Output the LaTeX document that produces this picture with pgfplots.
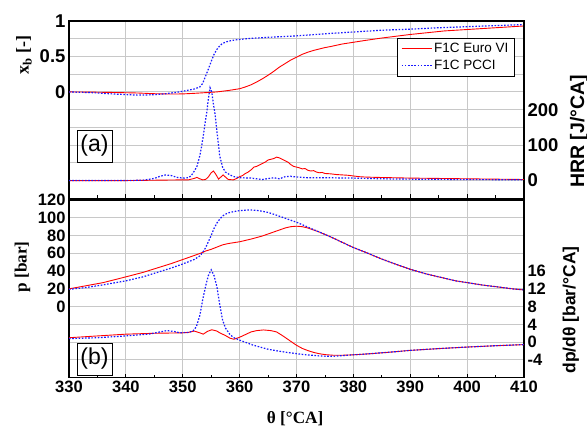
\documentclass[border=0pt]{standalone}
\usepackage{pgfplots}
\pgfplotsset{compat=1.18}
\usepackage{fontspec}
\setmainfont{Liberation Sans}
\newfontfamily\serif{Liberation Serif}
\definecolor{gridc}{RGB}{200,200,200}
\definecolor{pblue}{RGB}{25,25,255}
\pgfplotsset{
  base/.style={scale only axis, width=455pt, xmin=330, xmax=410, anchor=south west,
    /pgf/number format/assume math mode=true,
    axis line style={line width=1.2pt, black},
    xtick={330,340,...,410}, minor xtick={335,345,...,405},
    xtick pos=bottom, tick align=inside,
    major tick length=4pt, minor tick length=3pt,
    xtick style={black, line width=0.8pt},
    ytick style={draw=none},
    major grid style={gridc, line width=1pt},
    minor grid style={gridc, line width=1pt},
    clip=true},
  euro/.style={red, line width=0.9pt},
  pcci/.style={pblue, line width=1.2pt, dash pattern=on 1.6pt off 1.6pt},
}
\begin{document}
\begin{tikzpicture}
\path[use as bounding box] (0,0) rectangle (587pt,432pt);
% ---------------- top panel, left axis (x_b)
\begin{axis}[base, at={(69pt,233.7pt)}, height=177.3pt,
  ymin=-1.5, ymax=1, ytick={0,0.5,1}, yticklabels={0,0.5,1},
  minor ytick={-1.25,-1,-0.75,-0.5,-0.25,0.25,0.75},
  ymajorgrids, yminorgrids, xmajorgrids,
  xticklabels={}, ytick pos=left,
  yticklabel style={font=\bfseries\fontsize{18.5}{20}\selectfont},
  ylabel={\serif\bfseries x\textsubscript{b} [-]},
  ylabel style={at={(axis description cs:-0.099,0.808)}, anchor=center, font=\fontsize{18}{20}\selectfont},
  legend style={at={(axis description cs:0.720,0.904)}, anchor=north west, draw=black, line width=0.8pt,
    font=\fontsize{13.5}{15}\selectfont, row sep=2pt, inner xsep=4pt, inner ysep=3pt},
  legend cell align=left,
  legend image code/.code={\draw[#1] (0pt,0pt) -- (30pt,0pt);},
]
\addplot[euro] coordinates {(330,0) (334,-0.003) (338,-0.008) (342,-0.015) (345,-0.025) (348,-0.03) (350,-0.028) (352,-0.02) (354,-0.01) (356,0.0) (358,0.02) (360,0.045) (361,0.07) (362,0.1) (363,0.14) (364,0.185) (365,0.235) (366,0.29) (367,0.35) (368,0.40) (369,0.45) (370,0.49) (371,0.53) (372,0.56) (373,0.585) (374,0.605) (375,0.625) (376,0.64) (378,0.675) (380,0.70) (382,0.725) (385,0.76) (388,0.79) (390,0.81) (393,0.835) (396,0.86) (400,0.88) (405,0.905) (410,0.93)};
\addlegendentry{F1C Euro VI}
\addplot[pcci] coordinates {(330,0) (334,-0.01) (338,-0.03) (342,-0.045) (345,-0.04) (347,-0.025) (349,-0.005) (350,0.01) (351,0.025) (352,0.04) (353,0.07) (353.5,0.12) (354,0.22) (354.5,0.32) (355,0.43) (355.5,0.53) (356,0.60) (356.5,0.65) (357,0.685) (357.5,0.70) (358,0.715) (359,0.73) (360,0.74) (362,0.755) (365,0.77) (370,0.79) (375,0.82) (380,0.845) (385,0.87) (390,0.885) (395,0.905) (400,0.92) (405,0.935) (410,0.95)};
\addlegendentry{F1C PCCI}
\node[draw=black, line width=0.8pt, minimum width=35pt, minimum height=32pt, inner sep=0pt, font=\fontsize{23}{25}\selectfont] at (axis description cs:0.056,0.295) {(a)};
\end{axis}
% ---------------- top panel, right axis (HRR)
\begin{axis}[base, at={(69pt,233.7pt)}, height=177.3pt,
  axis y line*=right, axis x line=none,
  ymin=-50, ymax=450, ytick={0,100,200},
  yticklabel style={font=\bfseries\fontsize{18.5}{20}\selectfont},
  ylabel={\bfseries HRR [J/°CA]},
  ylabel style={at={(axis description cs:1.121,0.377)}, anchor=center, font=\fontsize{19.5}{21}\selectfont},
]
\addplot[euro] coordinates {(330,0) (340,0) (345,1) (350,2) (351,2) (352,6) (352.5,9) (353,5) (353.5,2) (354,3) (354.5,10) (355,22) (355.4,27) (355.8,18) (356.3,4) (356.7,10) (357.1,16) (357.5,10) (358,3) (358.9,2) (359.5,6) (360,11) (360.5,14) (361,20) (361.5,24) (362,30) (362.5,38) (363,40) (363.5,44) (364,48) (364.5,52) (365,58) (365.5,60) (366,62) (366.5,66) (367,64) (367.5,60) (368,56) (368.5,52) (369,45) (369.5,40) (370,38) (370.5,36) (371,33) (371.5,34) (372,29) (372.5,27) (373,28) (373.5,24) (374,22) (374.5,23) (375,20) (376,19) (377,17) (378,16) (379,15) (380,13) (381,11) (382,10) (384,9) (387,8) (390,7) (395,6) (400,5) (405,4) (410,3)};
\addplot[pcci] coordinates {(330,0) (340,0) (343,1) (345,6) (346,12) (347,16) (348,14) (349,9) (350,7) (351,8) (351.5,14) (352,26) (352.5,40) (353,70) (353.3,95) (353.6,125) (354,170) (354.2,189) (354.5,230) (354.8,262) (355.1,250) (355.4,215) (355.7,185) (356,140) (356.5,70) (357,38) (357.5,24) (358.3,16) (359,11) (360,8) (362,7) (364,3) (366,8) (367,5) (368,11) (369,12) (370,10) (372,8) (375,8) (380,7) (385,5) (390,4) (400,3) (410,2)};
\end{axis}
% ---------------- bottom panel, left axis (p)
\begin{axis}[base, at={(69pt,54.3pt)}, height=177.7pt,
  ymin=-80, ymax=120, ytick={0,20,...,120},
  minor ytick={-60,-40,-20},
  ymajorgrids, yminorgrids, xmajorgrids, ytick pos=left,
  ticklabel style={font=\bfseries\fontsize{16.5}{18}\selectfont},
  ylabel={\serif\bfseries p [bar]},
  ylabel style={at={(axis description cs:-0.102,0.623)}, anchor=center, font=\fontsize{17.2}{19}\selectfont},
  xlabel={\serif\bfseries θ [°CA]},
  xlabel style={at={(axis description cs:0.497,-0.232)}, anchor=center, font=\fontsize{17.2}{19}\selectfont},
]
\addplot[euro] coordinates {(330,20) (333,23.5) (336,27) (340,33.5) (343,38.5) (345,42.5) (348,48.5) (350,53) (352,57.5) (353.5,61) (354,62.5) (355,64.5) (356,67) (357,69.5) (358,71) (360,73) (362,76) (364,79.5) (366,84) (368,88.5) (369,90) (370,90.5) (371,90) (372,88.5) (374,84) (376,78.5) (378,72.5) (380,66.5) (382,61.5) (385,53.5) (388,46.5) (390,42) (393,36.5) (395,33.5) (398,29) (400,27) (403,24) (405,22.5) (408,20) (410,18.8)};
\addplot[pcci] coordinates {(330,19.5) (333,21.5) (336,24.5) (340,29) (343,33.5) (345,37.5) (348,43.5) (350,48) (352,53) (353,57) (353.5,61) (354,66) (354.5,73) (355,80) (355.5,88) (356,94) (356.5,98.5) (357,102) (357.5,104) (358,105.5) (359,107) (360,108) (361,108.6) (362,108.7) (363,108.3) (364,107.3) (365,106) (366,104) (368,99.5) (370,95) (372,89.5) (374,84) (376,78.5) (378,72.5) (380,66.5) (382,61.5) (385,53.5) (388,46.5) (390,42) (393,36.5) (395,33.5) (398,29) (400,27) (403,24) (405,22.5) (408,20) (410,18.8)};
\node[draw=black, line width=0.8pt, minimum width=35pt, minimum height=32pt, inner sep=0pt, font=\fontsize{23}{25}\selectfont] at (axis description cs:0.056,0.105) {(b)};
\end{axis}
% ---------------- bottom panel, right axis (dp/dtheta)
\begin{axis}[base, at={(69pt,54.3pt)}, height=177.7pt,
  axis y line*=right, axis x line=none,
  ymin=-8, ymax=32, ytick={-4,0,...,16},
  yticklabel style={font=\bfseries\fontsize{16.5}{18}\selectfont},
  ylabel={\bfseries dp/dθ [bar/°CA]},
  ylabel style={at={(axis description cs:1.103,0.381)}, anchor=center, font=\fontsize{17.5}{19}\selectfont},
]
\addplot[euro] coordinates {(330,1.0) (335,1.4) (340,1.8) (345,2.0) (350,2.1) (351,2.2) (352,2.5) (353,2.1) (353.6,1.8) (354.3,2.4) (355.1,2.8) (356,2.5) (356.5,2.1) (357.5,1.5) (358.3,0.9) (359,0.65) (360,1.1) (361,1.7) (362,2.3) (363,2.6) (364.2,2.75) (365.5,2.6) (366.5,2.3) (367.5,1.5) (368.3,0.8) (369.2,0.0) (370,-0.7) (371,-1.4) (372,-1.9) (373,-2.3) (374,-2.6) (375,-2.8) (376.5,-2.95) (378,-2.95) (380,-2.85) (383,-2.6) (386,-2.3) (390,-1.85) (395,-1.45) (400,-1.1) (405,-0.8) (410,-0.55)};
\addplot[pcci] coordinates {(330,0.8) (335,1.0) (340,1.4) (344,1.8) (346,2.3) (347.2,2.6) (348.5,2.4) (349.5,2.1) (351,2.2) (351.8,2.5) (352.4,3.5) (353,6) (353.5,9.5) (354,12.5) (354.5,15) (355,16.3) (355.5,15) (356,12.5) (356.5,8.5) (357,5) (357.5,3.2) (358.3,1.7) (359,1.0) (360,0.45) (362.4,-0.68) (365,-1.6) (368,-2.25) (371,-2.75) (374,-3.1) (376,-3.2) (378,-3.05) (380,-2.85) (383,-2.6) (386,-2.3) (390,-1.85) (395,-1.45) (400,-1.1) (405,-0.8) (410,-0.55)};
\end{axis}
\end{tikzpicture}
\end{document}
